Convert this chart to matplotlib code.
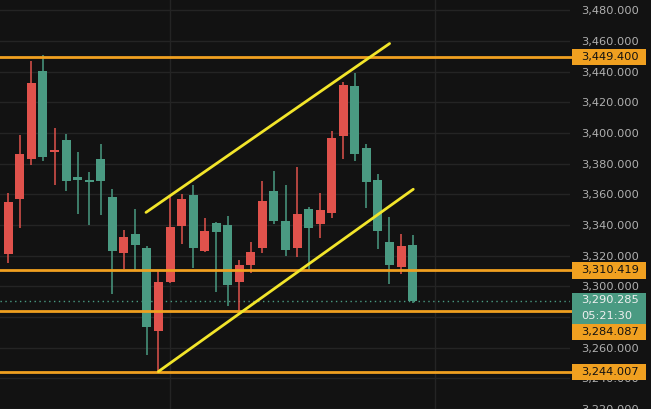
import matplotlib
matplotlib.use("Agg")
import matplotlib.pyplot as plt
import numpy as np
from matplotlib.patches import Rectangle
from matplotlib.transforms import blended_transform_factory

# ---- data ----
opens = [3321.3, 3356.8, 3382.7, 3440.2, 3387.3, 3395.6, 3371.0, 3369.1, 3383.3, 3358.1,
         3321.9, 3334.2, 3325.2, 3270.9, 3302.6, 3339.6, 3359.4, 3323.2, 3341.3, 3340.0,
         3302.6, 3313.6, 3325.2, 3362.0, 3342.6, 3325.2, 3350.4, 3340.7, 3347.8, 3398.2,
         3430.5, 3390.4, 3369.1, 3329.0, 3312.9, 3327.1]
highs = [3360.7, 3398.8, 3446.6, 3451.1, 3403.3, 3399.5, 3387.8, 3374.3, 3393.0, 3363.3,
         3336.8, 3350.4, 3326.0, 3309.7, 3358.1, 3360.1, 3365.9, 3344.6, 3342.0, 3345.8,
         3317.4, 3329.0, 3368.4, 3374.9, 3365.9, 3377.5, 3351.7, 3360.7, 3401.4, 3433.1,
         3438.9, 3393.0, 3373.0, 3345.2, 3334.2, 3333.6]
lows = [3315.4, 3338.1, 3379.4, 3382.0, 3365.9, 3362.0, 3347.1, 3340.0, 3346.5, 3294.8,
        3311.6, 3309.7, 3255.4, 3244.4, 3301.9, 3327.3, 3311.8, 3322.5, 3296.1, 3287.0,
        3283.8, 3308.4, 3322.0, 3340.7, 3320.0, 3319.3, 3309.7, 3331.6, 3344.6, 3383.3,
        3381.4, 3351.0, 3324.5, 3301.3, 3307.8, 3289.0]
closes = [3354.9, 3386.5, 3432.4, 3384.0, 3387.9, 3368.5, 3369.1, 3367.8, 3368.5, 3322.8,
          3332.3, 3327.1, 3273.5, 3302.6, 3338.7, 3356.8, 3325.2, 3336.2, 3335.5, 3300.6,
          3314.2, 3322.5, 3355.5, 3342.6, 3323.9, 3347.1, 3338.1, 3349.7, 3396.9, 3431.1,
          3386.5, 3367.8, 3336.2, 3313.6, 3326.5, 3290.285]

levels = [3449.400, 3310.419, 3284.087, 3244.007]
last_price = 3290.285
countdown = "05:21:30"

# trend lines: (index, price) endpoints
upper_line = ([11.92, 33.01], [3348.2, 3458.3])
lower_line = ([12.99, 35.06], [3244.4, 3363.3])

yticks = list(range(3220, 3481, 20))
vgrid_x = [14.0, 36.95]

# ---- style ----
BG = "#121212"
UP = "#e0524c"      # red = rising
DOWN = "#4a9a82"    # green = falling
ORANGE = "#f0a020"
YELLOW = "#f2e52a"
GRID = "#242424"
TXT = "#b0b0b0"

W, H = 651, 409
fig = plt.figure(figsize=(W / 100, H / 100), dpi=100, facecolor=BG)
ax = fig.add_axes([0, 0, 570 / W, 1])
ax.set_facecolor(BG)

ymin, ymax = 3222.5, 3486.7
ax.set_ylim(ymin, ymax)
ax.set_xlim(-0.72, 48.63)
px_per_unit = H / (ymax - ymin)

for s in ax.spines.values():
    s.set_visible(False)

# grid
for yv in yticks:
    ax.axhline(yv, color=GRID, lw=1, zorder=0)
for xv in vgrid_x:
    ax.axvline(xv, color=GRID, lw=1, zorder=0)

# candles
idx = np.arange(len(opens))
o = np.array(opens); c = np.array(closes); hi = np.array(highs); lo = np.array(lows)
cols = [UP if cc >= oo else DOWN for oo, cc in zip(o, c)]
ax.vlines(idx, lo, hi, colors=cols, lw=1.1, zorder=2)
bottoms = np.minimum(o, c)
heights = np.maximum(np.abs(c - o), 1.3)
ax.bar(idx, heights, bottom=bottoms, width=0.78, color=cols, edgecolor="none", zorder=3)

# horizontal levels
for lv in levels:
    ax.axhline(lv, color=ORANGE, lw=2, zorder=4, xmax=1.004, clip_on=False)

# last price dotted line
ax.axhline(last_price, color=DOWN, lw=1, ls=(0, (1, 2.5)), zorder=1)

# trend lines
ax.plot(*upper_line, color=YELLOW, lw=2, zorder=5, solid_capstyle="round")
ax.plot(*lower_line, color=YELLOW, lw=2, zorder=5, solid_capstyle="round")

# right axis ticks
ax.yaxis.tick_right()
ax.set_yticks(yticks)
ax.set_yticklabels([f"{v:,.3f}" for v in yticks])
ax.tick_params(axis="y", length=0, pad=8, labelsize=8.2, labelcolor=TXT)
ax.set_xticks([])

# price label boxes
tr = blended_transform_factory(fig.transFigure, ax.transData)
bx0 = 572 / W
bw = 74 / W
txt_x = 581 / W
box_h = 16.6 / px_per_unit


def label_box(center, text, face, tcolor, h=box_h):
    ax.add_patch(Rectangle((bx0, center - h / 2), bw, h, transform=tr, facecolor=face,
                           edgecolor="none", clip_on=False, zorder=10))
    ax.text(txt_x, center, text, transform=tr, ha="left", va="center", fontsize=8.2,
            color=tcolor, clip_on=False, zorder=11)


label_box(levels[0], f"{levels[0]:,.3f}", ORANGE, "#111111")
label_box(levels[1], f"{levels[1]:,.3f}", ORANGE, "#111111")
label_box(levels[3], f"{levels[3]:,.3f}", ORANGE, "#111111")

# last price box (two lines)
gh = 30.7 / px_per_unit
gtop = last_price + 8 / px_per_unit
ax.add_patch(Rectangle((bx0, gtop - gh), bw, gh, transform=tr, facecolor=DOWN,
                       edgecolor="none", clip_on=False, zorder=10))
ax.text(txt_x, last_price + 0.6, f"{last_price:,.3f}", transform=tr, ha="left", va="center",
        fontsize=8.2, color="#f0f0f0", clip_on=False, zorder=11)
ax.text(txt_x, last_price - 14.8 / px_per_unit, countdown, transform=tr, ha="left",
        va="center", fontsize=8.2, color="#f0f0f0", clip_on=False, zorder=11)
# 3284 label pushed below the last-price box
label_box(gtop - gh - box_h / 2, f"{levels[2]:,.3f}", ORANGE, "#111111")

fig.savefig("out.png", dpi=100, facecolor=BG)
